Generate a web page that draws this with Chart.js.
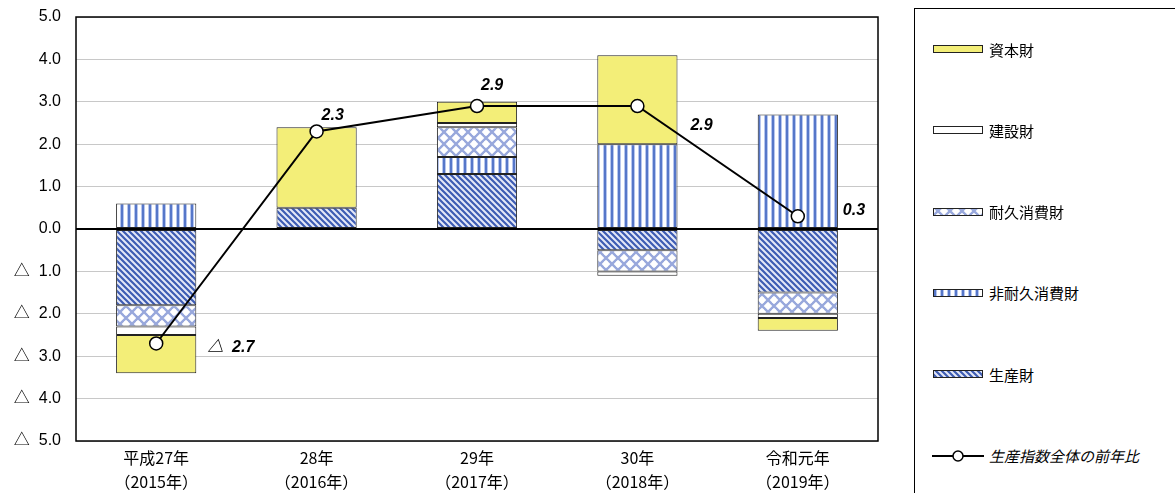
<!DOCTYPE html>
<html>
<head>
<meta charset="utf-8">
<script src="https://cdn.jsdelivr.net/npm/chart.js@4/dist/chart.umd.min.js"></script>
<style>
  html, body { margin: 0; padding: 0; background: #fff; }
  #wrap { position: absolute; left: 0; top: 0; width: 910px; height: 493px; }
  #legend {
    position: absolute; left: 914px; top: 8px; width: 300px; height: 520px;
    border-left: 1.5px solid #000; border-top: 1.5px solid #000;
    font-family: "Noto Sans CJK JP", sans-serif; font-size: 15px; color: #000;
  }
  .item { position: absolute; left: 17px; height: 20px; display: flex; align-items: center; }
  .item canvas { margin-right: 5px; }
  .item.line span { font-style: italic; }
</style>
</head>
<body>
<div id="wrap"><canvas id="chart"></canvas></div>
<div id="legend"></div>
<script>
// categories
const categories = [
  ['平成27年', '（2015年）'],
  ['28年', '（2016年）'],
  ['29年', '（2017年）'],
  ['30年', '（2018年）'],
  ['令和元年', '（2019年）']
];

// contributions by goods type (stack order from zero outward)
const seisanzai   = [-1.8, 0.5, 1.3, -0.5, -1.5];   // 生産財
const hitaikyu    = [0.6, 0.0, 0.4, 2.0, 2.7];      // 非耐久消費財
const taikyu      = [-0.5, 0.0, 0.7, -0.5, -0.5];   // 耐久消費財
const kensetsu    = [-0.2, 0.0, 0.1, -0.1, -0.1];   // 建設財
const shihon      = [-0.9, 1.9, 0.5, 2.1, -0.3];    // 資本財
const total       = [-2.7, 2.3, 2.9, 2.9, 0.3];     // 生産指数全体の前年比

const yTicks = { min: -5, max: 5, step: 1 };

// where each total label sits relative to its point (px)
const labelOffsets = [[51, 4], [5, -16], [4, -20], [53, 20], [45, -6]];

// negative numbers are written with a triangle
const fmt = v => v < 0 ? '△  ' + Math.abs(v).toFixed(1) : v.toFixed(1);

// --- patterns
function tile(w, h, draw) {
  const c = document.createElement('canvas');
  c.width = w; c.height = h;
  draw(c.getContext('2d'), w, h);
  return c;
}
function diagTile() {
  return tile(6, 6, (g, w, h) => {
    g.fillStyle = '#e4e8f7'; g.fillRect(0, 0, w, h);
    g.strokeStyle = '#3d5cb3'; g.lineWidth = 2.2;
    g.beginPath();
    g.moveTo(-1, -1); g.lineTo(w + 1, h + 1);
    g.moveTo(-1, h - 1); g.lineTo(1, h + 1);
    g.moveTo(w - 1, -1); g.lineTo(w + 1, 1);
    g.stroke();
  });
}
function vertTile() {
  return tile(7, 4, (g, w, h) => {
    g.fillStyle = '#ffffff'; g.fillRect(0, 0, w, h);
    g.fillStyle = '#b7c6ee'; g.fillRect(1, 0, 4, h);
    g.fillStyle = '#5677c9'; g.fillRect(2, 0, 2, h);
  });
}
function latticeTile() {
  return tile(12, 12, (g, w, h) => {
    g.fillStyle = '#ffffff'; g.fillRect(0, 0, w, h);
    g.strokeStyle = '#98a8dc'; g.lineWidth = 2.4;
    g.beginPath();
    g.moveTo(0, 0); g.lineTo(w, h);
    g.moveTo(w, 0); g.lineTo(0, h);
    g.stroke();
    g.fillStyle = '#ffffff';
    g.beginPath(); g.arc(w / 2, 1, 2.2, 0, Math.PI * 2); g.fill();
    g.beginPath(); g.arc(w / 2, h - 1, 2.2, 0, Math.PI * 2); g.fill();
  });
}

const ctx = document.getElementById('chart').getContext('2d');
const pDiag = ctx.createPattern(diagTile(), 'repeat');
const pVert = ctx.createPattern(vertTile(), 'repeat');
const pLat = ctx.createPattern(latticeTile(), 'repeat');
const yellow = '#f3ee78';

const barBase = {
  type: 'bar', stack: 'goods', borderColor: '#222', borderWidth: 1,
  borderSkipped: false, barPercentage: 0.5, categoryPercentage: 1
};

const labelPlugin = {
  id: 'totals',
  afterDatasetsDraw(chart) {
    const c = chart.ctx;
    const meta = chart.getDatasetMeta(0);
    c.save();
    c.font = 'italic bold 16px "Liberation Sans", "Noto Sans CJK JP", sans-serif';
    c.fillStyle = '#000';
    c.textAlign = 'left';
    c.textBaseline = 'middle';
    meta.data.forEach((pt, i) => {
      c.fillText(fmt(total[i]), pt.x + labelOffsets[i][0], pt.y + labelOffsets[i][1]);
    });
    c.restore();
  }
};

const framePlugin = {
  id: 'frame',
  afterDraw(chart) {
    const a = chart.chartArea, c = chart.ctx;
    c.save();
    c.strokeStyle = '#000'; c.lineWidth = 1.5;
    c.strokeRect(a.left, a.top, a.right - a.left, a.bottom - a.top);
    c.restore();
  }
};

new Chart(ctx, {
  data: {
    labels: categories,
    datasets: [
      {
        type: 'line', label: '生産指数全体の前年比', data: total, stack: 'total',
        order: -1, borderColor: '#000', borderWidth: 2, pointRadius: 6.5,
        pointBackgroundColor: '#fff', pointBorderColor: '#000', pointBorderWidth: 1.5,
        tension: 0
      },
      { ...barBase, label: '生産財', data: seisanzai, backgroundColor: pDiag },
      { ...barBase, label: '非耐久消費財', data: hitaikyu, backgroundColor: pVert },
      { ...barBase, label: '耐久消費財', data: taikyu, backgroundColor: pLat },
      { ...barBase, label: '建設財', data: kensetsu, backgroundColor: '#ffffff' },
      { ...barBase, label: '資本財', data: shihon, backgroundColor: yellow }
    ]
  },
  options: {
    responsive: true,
    maintainAspectRatio: false,
    animation: false,
    layout: { padding: { top: 17, right: 32, left: 0, bottom: 0 } },
    plugins: { legend: { display: false }, tooltip: { enabled: false } },
    scales: {
      x: {
        stacked: true,
        grid: { display: false, drawTicks: false },
        border: { display: false },
        afterFit(s) { s.height = 52; },
        ticks: {
          padding: 5, color: '#000', maxRotation: 0,
          font: { family: '"Noto Sans CJK JP", sans-serif', size: 16, lineHeight: 1.5 }
        }
      },
      y: {
        stacked: true,
        min: yTicks.min, max: yTicks.max,
        afterFit(s) { s.width = 76; s.paddingTop = 8; s.paddingBottom = 8; },
        border: { display: false },
        grid: {
          drawTicks: false,
          color: c => c.tick && c.tick.value === 0 ? '#000' : '#c8c8c8',
          lineWidth: c => c.tick && c.tick.value === 0 ? 2 : 1
        },
        ticks: {
          stepSize: yTicks.step, padding: 15, color: '#000',
          font: { family: '"Liberation Sans", "Noto Sans CJK JP", sans-serif', size: 16 },
          callback: fmt
        }
      }
    }
  },
  plugins: [labelPlugin, framePlugin]
});

// --- legend box
const legendItems = [
  { label: '資本財', fill: yellow },
  { label: '建設財', fill: '#ffffff' },
  { label: '耐久消費財', fill: latticeTile },
  { label: '非耐久消費財', fill: vertTile },
  { label: '生産財', fill: diagTile },
  { label: '生産指数全体の前年比', line: true }
];
const legend = document.getElementById('legend');
legendItems.forEach((it, i) => {
  const row = document.createElement('div');
  row.className = 'item' + (it.line ? ' line' : '');
  row.style.top = (30 + i * 81.3) + 'px';
  const cv = document.createElement('canvas');
  cv.width = 52; cv.height = 14;
  const g = cv.getContext('2d');
  if (it.line) {
    g.strokeStyle = '#000'; g.lineWidth = 2;
    g.beginPath(); g.moveTo(0, 7); g.lineTo(52, 7); g.stroke();
    g.fillStyle = '#fff'; g.lineWidth = 1.5;
    g.beginPath(); g.arc(26, 7, 5, 0, Math.PI * 2); g.fill(); g.stroke();
  } else {
    g.fillStyle = typeof it.fill === 'function' ? g.createPattern(it.fill(), 'repeat') : it.fill;
    g.fillRect(1, 4, 49, 6);
    g.strokeStyle = '#222'; g.lineWidth = 1;
    g.strokeRect(1.5, 3.5, 49, 7);
  }
  row.appendChild(cv);
  const sp = document.createElement('span');
  sp.textContent = it.label;
  row.appendChild(sp);
  legend.appendChild(row);
});
</script>
</body>
</html>
